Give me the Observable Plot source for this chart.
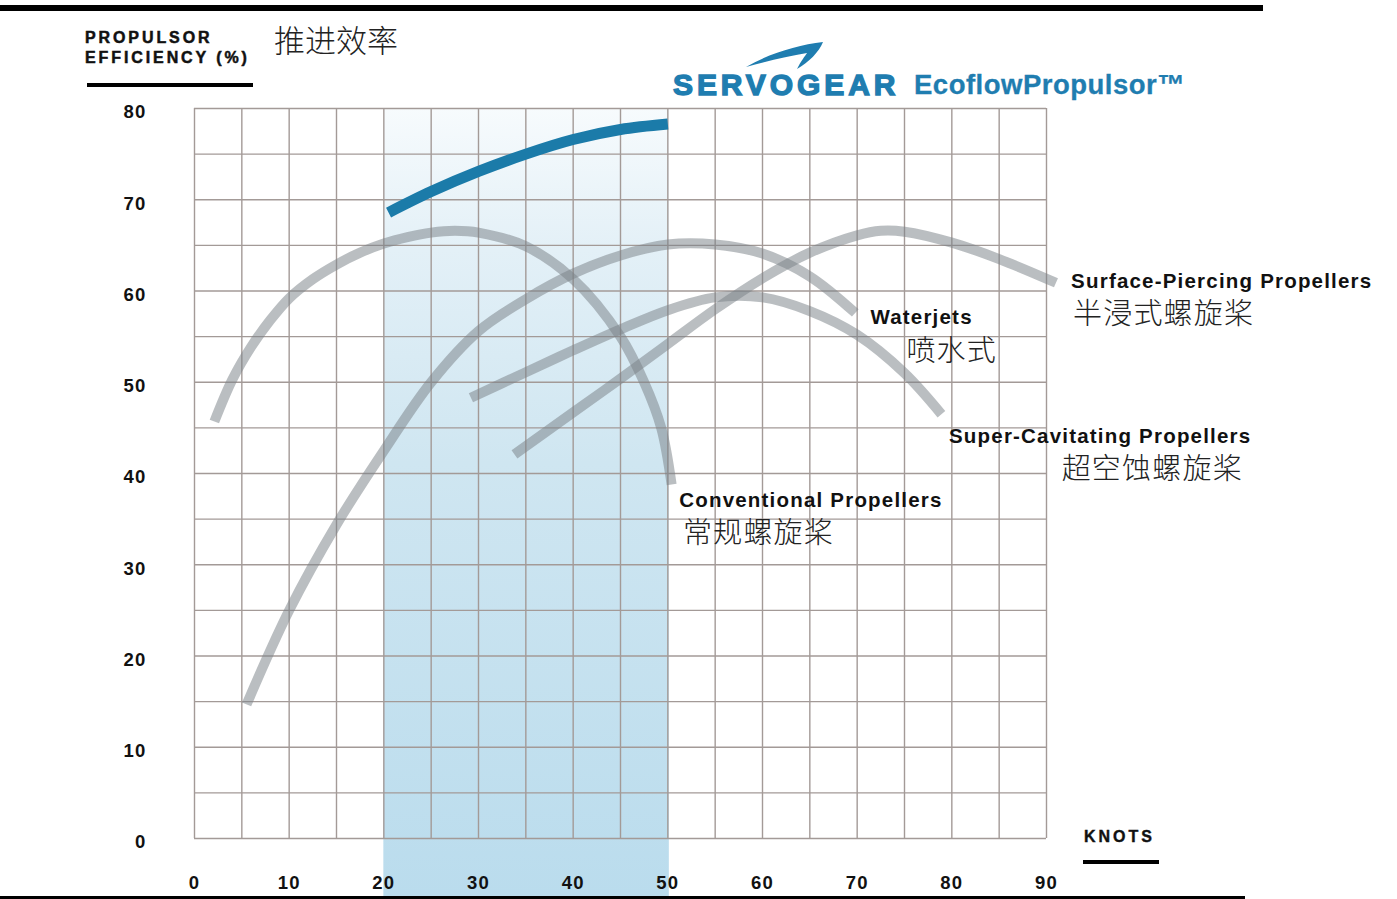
<!DOCTYPE html>
<html>
<head>
<meta charset="utf-8">
<script src="https://cdn.jsdelivr.net/npm/d3@7"></script>
<script src="https://cdn.jsdelivr.net/npm/@observablehq/plot@0.6"></script>
<style>
  body { margin: 0; background: #fff; }
  #wrap { position: relative; width: 1397px; height: 899px; overflow: hidden; font-family: "Liberation Sans", Arial, sans-serif; }
  #wrap svg { position: absolute; left: 0; top: 0; }
  .abs { position: absolute; white-space: nowrap; line-height: 1; }
  .bar { position: absolute; background: #000; }
  .ytitle { left: 85px; font-size: 16px; font-weight: bold; letter-spacing: 2.9px; color: #111; -webkit-text-stroke: 0.5px #111; }
  .zh { font-family: "Noto Sans CJK SC", sans-serif; font-weight: 300; color: #222; }
  .logo { color: #1f7db0; font-weight: bold; }
</style>
</head>
<body>
<div id="wrap">
  <div class="bar" style="left:0;top:5px;width:1263px;height:5.5px;"></div>
  <div class="bar" style="left:0;top:895.5px;width:1245px;height:3px;"></div>
  <div class="abs ytitle" style="top:30px;">PROPULSOR</div>
  <div class="abs ytitle" style="top:50px;">EFFICIENCY (%)</div>
  <div class="bar" style="left:87px;top:83px;width:166px;height:4px;"></div>
  <div class="abs zh" style="left:274px;top:23px;font-size:31px;">推进效率</div>
  <svg style="position:absolute;left:0;top:0;" width="1397" height="120">
    <path d="M746,67 C770,53 798,45 823,42 C819,52 809,62 797,69 C801,61 805,56 807,53 C788,56 768,61 746,67 Z" fill="#1f7db0"/>
  </svg>
  <div class="abs logo" style="left:673px;top:70px;font-size:30px;letter-spacing:3.9px;-webkit-text-stroke:1.4px #1f7db0;">SERVOGEAR</div>
  <div class="abs logo" style="left:914px;top:71px;font-size:27.5px;letter-spacing:0.5px;-webkit-text-stroke:0.3px #1f7db0;">EcoflowPropulsor™</div>
  <div class="abs" style="left:1084px;top:829px;font-size:16px;font-weight:bold;letter-spacing:3px;color:#111;-webkit-text-stroke:0.4px #111;">KNOTS</div>
  <div class="bar" style="left:1083px;top:860px;width:76px;height:4px;"></div>
</div>
<script>
// ---- data ----
const xTicks = [0, 10, 20, 30, 40, 50, 60, 70, 80, 90];
const yTicks = [0, 10, 20, 30, 40, 50, 60, 70, 80];
const gridKnots = [0, 5, 10, 15, 20, 25, 30, 35, 40, 45, 50, 55, 60, 65, 70, 75, 80, 85, 90];
const gridEff = [0, 5, 10, 15, 20, 25, 30, 35, 40, 45, 50, 55, 60, 65, 70, 75, 80];
const bandRange = [20, 50];

const ecoKnots = [20.5, 25, 30, 35, 40, 45, 50];
const ecoEff   = [68.6, 70.9, 73.1, 75.0, 76.6, 77.7, 78.3];

const convKnots = [2.1, 4, 6, 8, 10, 12.5, 15, 17.5, 20, 22.5, 25, 27.5, 30, 35, 40, 45, 47.5, 49.3, 50.4];
const convEff   = [45.7, 50.3, 53.9, 56.8, 59.2, 61.3, 62.9, 64.2, 65.2, 65.9, 66.4, 66.6, 66.4, 64.9, 61.3, 55, 50, 45, 38.8];

const jetKnots = [5.5, 10, 15, 20, 25, 30, 35, 40, 45, 50, 55, 60, 65, 69.8];
const jetEff   = [14.7, 25, 34.4, 42.5, 50, 55.6, 59.1, 61.9, 63.9, 65.1, 65.1, 64.1, 61.6, 57.6];

const scKnots = [29.2, 35, 40, 45, 50, 55, 60, 65, 70, 75, 78.9];
const scEff   = [48.3, 51.1, 53.5, 55.8, 57.9, 59.3, 59.3, 57.8, 55.2, 51.0, 46.5];

const spKnots = [33.8, 40, 45, 50, 55, 60, 65, 70, 72.5, 75, 80, 85, 91];
const spEff   = [42.1, 46.7, 50.4, 54.2, 58.0, 61.4, 64.2, 66.1, 66.6, 66.5, 65.3, 63.5, 60.9];

const labelEn = ["Surface-Piercing Propellers", "Waterjets", "Super-Cavitating Propellers", "Conventional Propellers"];
const labelZh = ["半浸式螺旋桨", "喷水式", "超空蚀螺旋桨", "常规螺旋桨"];
const labelEnKnots = [92.6, 71.4, 79.7, 51.2];
const labelEnEff   = [61.0, 57.1, 44.1, 37.1];
const labelZhKnots = [92.8, 75.2, 91.6, 51.6];
const labelZhEff   = [57.4, 53.3, 40.4, 33.4];

// ---- tables ----
const toRows = (ks, es) => ks.map((k, i) => ({knots: k, eff: es[i]}));
const eco = toRows(ecoKnots, ecoEff);
const greys = [toRows(convKnots, convEff), toRows(jetKnots, jetEff), toRows(scKnots, scEff), toRows(spKnots, spEff)];
const enRows = labelEn.map((t, i) => ({t, knots: labelEnKnots[i], eff: labelEnEff[i]}));
const zhRows = labelZh.map((t, i) => ({t, knots: labelZhKnots[i], eff: labelZhEff[i]}));

const chart = Plot.plot({
  width: 1397,
  height: 899,
  marginLeft: 194,
  marginRight: 351,
  marginTop: 108,
  marginBottom: 61,
  x: {domain: [0, 90]},
  y: {domain: [0, 80]},
  style: {fontFamily: "'Liberation Sans', Arial, sans-serif", background: "transparent", overflow: "visible", letterSpacing: "1.2px"},
  marks: [
    Plot.rect([bandRange], {x1: d => d[0], x2: d => d[1], fill: "url(#bandGrad)", insetBottom: -58, insetRight: -1.5}),
    Plot.ruleX(gridKnots, {stroke: "#a39a97", strokeWidth: 1.4}),
    Plot.ruleY(gridEff, {stroke: "#a39a97", strokeWidth: 1.4}),
    ...greys.map(rows => Plot.line(rows, {x: "knots", y: "eff", curve: "catmull-rom", stroke: "#7b8388", strokeOpacity: 0.52, strokeWidth: 10, strokeLinecap: "butt"})),
    Plot.line(eco, {x: "knots", y: "eff", curve: "catmull-rom", stroke: "#1b7ba9", strokeWidth: 11, strokeLinecap: "butt"}),
    Plot.axisX({ticks: xTicks, tickSize: 0, tickPadding: 37, fontSize: 18.5, fontWeight: "bold", fill: "#111", label: null}),
    Plot.axisY({ticks: yTicks, tickSize: 0, tickPadding: 48, dy: 4, fontSize: 18.5, fontWeight: "bold", fill: "#111", label: null}),
    Plot.text(enRows, {x: "knots", y: "eff", text: "t", textAnchor: "start", fontSize: 20.5, fontWeight: "bold", fill: "#111"}),
    Plot.text(zhRows, {x: "knots", y: "eff", text: "t", textAnchor: "start", fontSize: 29, fontWeight: 300, fill: "#222", fontFamily: "'Noto Sans CJK SC', sans-serif"})
  ]
});

const defs = d3.select(chart).insert("defs", ":first-child");
const g = defs.append("linearGradient").attr("id", "bandGrad").attr("x1", 0).attr("y1", 0).attr("x2", 0).attr("y2", 1);
[[0, "#f7fbfd"], [0.18, "#e3f0f7"], [0.45, "#cfe6f1"], [1, "#badced"]].forEach(([o, c]) =>
  g.append("stop").attr("offset", o).attr("stop-color", c));

const wrap = document.getElementById("wrap");
wrap.insertBefore(chart, wrap.firstChild);
</script>
</body>
</html>
